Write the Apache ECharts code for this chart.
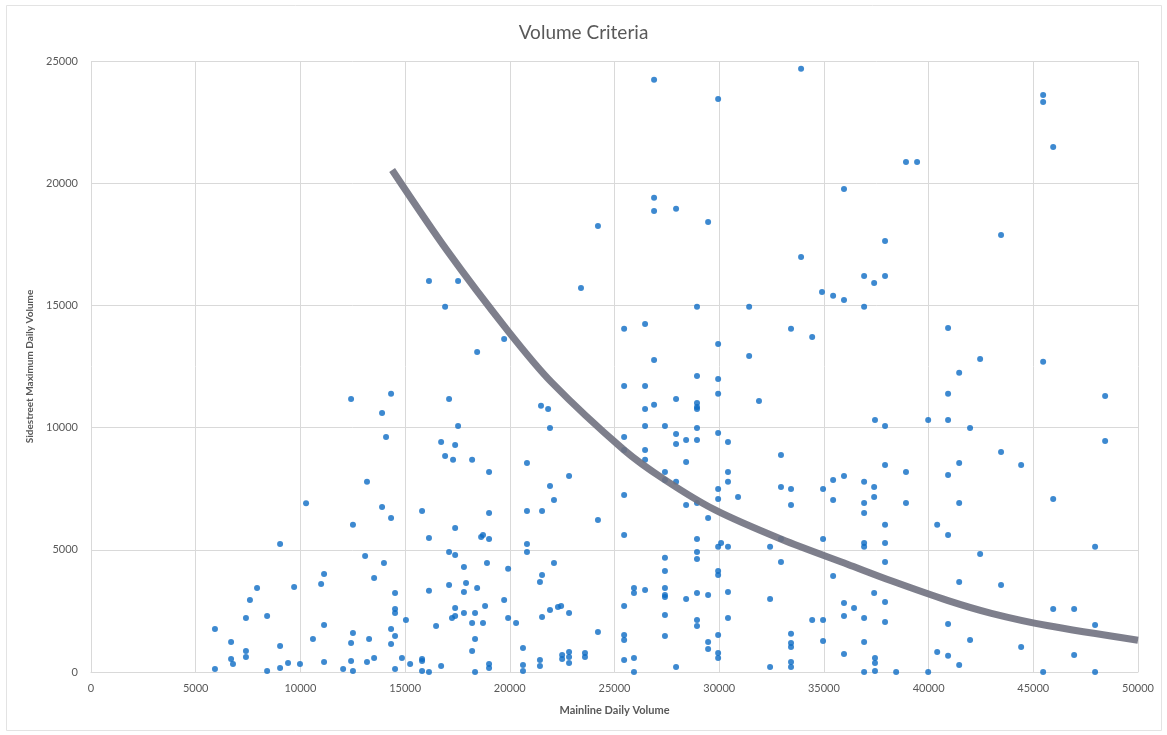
<!DOCTYPE html>
<html>
<head>
<meta charset="utf-8">
<title>Volume Criteria</title>
<script src="https://cdn.jsdelivr.net/npm/echarts@6/dist/echarts.min.js"></script>
<style>
  html, body { margin: 0; padding: 0; background: #fff; }
  #chart { width: 1167px; height: 735px; }
</style>
</head>
<body>
<div id="chart"></div>
<script>
  // sites: [mainline daily volume, sidestreet max daily volume]
  var sitesLow = [
    [10270,6900],[9030,5240],[11130,4010],[10990,3600],[7930,3440],[9700,3480],[7590,2950],[7400,2210],
    [8410,2290],[5920,1760],[11130,1920],[6690,1230],[10600,1350],[9030,1060],[7400,860],[7400,610],
    [6690,530],[6780,330],[5920,120],[8410,40],[9030,160],[9410,370],[9980,330],[11130,410],[12040,120]
  ]
  var sitesMid = [
    [12420,11170],[14330,11380],[13900,10600],[14090,9620],[17100,11170],[17530,10070],[16720,9410],[17390,9290],
    [16910,8840],[17290,8680],[18200,8680],[19010,8180],[13180,7780],[13900,6750],[14330,6300],[12510,6020],
    [15810,6590],[19010,6510],[17390,5890],[16140,5480],[18630,5520],[18720,5610],[19010,5440],[21490,10890],
    [21830,10760],[21920,9980],[20820,8550],[22830,8020],[21920,7610],[22110,7040],[20820,6590],[21540,6590],
    [24210,6220],[20820,5240],[20820,4910],[17100,4910],[17390,4790],[13090,4750],[13990,4460],[17810,4300],
    [18910,4460],[19920,4220],[22110,4460],[21540,3970],[21440,3680],[13520,3850],[14520,3230],[16140,3320],
    [17100,3560],[17910,3640],[17810,3270],[18440,3440],[19730,2950],[14520,2580],[14520,2410],[15040,2130],
    [16480,1880],[17390,2620],[17240,2210],[17390,2290],[17810,2410],[18340,2410],[18820,2700],[18200,2010],
    [18720,2010],[19920,2210],[20300,2010],[21920,2540],[22300,2660],[22450,2700],[22830,2410],[21540,2250],
    [24210,1640],[12510,1600],[12420,1190],[13280,1350],[14330,1760],[14520,1470],[14330,1150],[18340,1350],
    [18200,860],[20630,980],[12420,450],[13180,410],[13520,570],[14850,570],[15240,330],[15810,530],
    [15810,450],[16720,250],[14520,120],[15810,40],[16140,0],[12510,40],[18340,0],[19010,330],
    [19010,160],[20630,290],[20630,40],[21440,490],[21440,250],[22500,700],[22500,530],[22830,820],
    [22830,610],[22830,370],[23590,780],[23590,610],
    [24210,18250],[23400,15710],[16140,16000],[17530,16000],[16910,14940],[19730,13630],[18440,13090]
  ]
  var sitesHigh = [
    [26890,12770],[25460,11700],[26460,11700],[28940,12110],[29950,11990],[29950,11380],[27940,11170],[31900,11090],
    [26460,10760],[26890,10930],[28940,11010],[28940,10840],[28940,10760],[26460,10070],[27410,10070],[25460,9620],
    [27940,9740],[27940,9330],[28420,9490],[28940,9980],[28940,9490],[29950,9780],[30420,9410],[25460,9080],
    [26460,9080],[26460,8680],[28420,8590],[27410,8180],[27410,7860],[27940,7780],[30420,8180],[30420,7780],
    [29950,7490],[29950,7080],[30900,7160],[25460,7240],[28420,6830],[28940,6920],[29470,6300],[32950,8880],
    [32950,7570],[33430,7490],[33430,6830],[34960,7490],[35440,7860],[35960,8020],[35440,7040],[36920,7780],
    [36920,6920],[36920,6510],[37400,7570],[37400,7160],[37440,10310],[25460,5610],[28940,5440],[29950,5120],
    [30090,5280],[30420,5120],[32430,5120],[32950,5440],[34960,5440],[36920,5280],[36920,5120],[32950,4500],
    [27410,4670],[28940,4910],[28940,4620],[27410,4130],[29950,4130],[29950,3970],[25930,3440],[25930,3230],
    [26460,3360],[27410,3440],[27410,3150],[27410,3070],[28420,2990],[28940,3230],[29470,3150],[30420,3270],
    [32430,2990],[35440,3930],[25460,2700],[27410,2330],[28940,2130],[28940,1880],[30420,2210],[34440,2130],
    [34960,2130],[35960,2820],[36440,2620],[35960,2290],[36920,2210],[37400,3230],[25460,1510],[25460,1310],
    [27410,1470],[29470,1230],[29470,940],[29950,1510],[29950,780],[29950,570],[33430,1560],[33430,1190],
    [33430,1020],[34960,1270],[36920,1230],[25460,490],[25930,570],[25930,0],[27940,200],[32430,200],
    [33430,410],[33430,200],[35960,740],[36920,0],[37440,570],[37440,370],[37440,40],
    [26890,24230],[29950,23450],[33910,24680],[26890,19400],[26890,18860],[27940,18950],[29470,18410],[35960,19760],
    [33910,16980],[34910,15550],[35440,15390],[35960,15220],[36920,16200],[37400,15920],[28940,14940],[31430,14940],
    [36920,14940],[25460,14040],[26460,14240],[29950,13420],[31430,12930],[33430,14040],[34440,13710]
  ]
  var sitesFar = [
    [38920,20870],[39450,20870],[45470,23610],[45470,23320],[45950,21480],[43460,17880],[37920,17640],[37920,16200],
    [40930,14080],[42460,12810],[45470,12690],[41460,12240],[40930,11380],[48430,11290],[37920,10070],[39980,10310],
    [40930,10310],[41980,9980],[48430,9450],[43460,9000],[44420,8470],[37920,8470],[38920,8180],[41460,8550],
    [40930,8060],[38920,6920],[41460,6920],[45950,7080],[37920,6020],[37920,5280],[40410,6020],[40930,5610],
    [42460,4830],[47950,5120],[37920,4500],[41460,3680],[43460,3560],[37920,2860],[37920,2050],[40930,1960],
    [45950,2580],[46950,2580],[47950,1920],[41980,1310],[44420,1020],[40410,820],[40930,660],[41460,290],
    [46950,700],[38450,0],[39980,0],[45470,0],[47950,0]
  ]

  // criteria curve
  var curveX = [14380, 17000, 19920, 22000, 25456, 27410, 29800, 33000, 36150, 38250, 40930, 43000, 45660, 50000]
  var curveY = [20540, 17250, 13950, 11850, 9084, 7860, 6630, 5420, 4400, 3720, 2920, 2400, 1900, 1300]

  var xTicks = ['0','5000','10000','15000','20000','25000','30000','35000','40000','45000','50000']
  var yTicks = ['0','5000','10000','15000','20000','25000']

  var sites = sitesLow.concat(sitesMid, sitesHigh, sitesFar)
  var curve = curveX.map(function (x, i) { return [x, curveY[i]] })

  var font = 'Lato, "Open Sans", sans-serif'
  var chart = echarts.init(document.getElementById('chart'))
  chart.setOption({
    animation: false,
    graphic: [{
      type: 'rect',
      shape: { x: 6.5, y: 5.5, width: 1155, height: 725 },
      style: { fill: 'none', stroke: '#e3e3e3', lineWidth: 1 },
      silent: true
    }],
    title: {
      text: 'Volume Criteria',
      left: 'center',
      top: 18,
      textStyle: { color: '#595959', fontSize: 19, fontWeight: 'normal', fontFamily: font }
    },
    grid: { left: 91, right: 29, top: 61, bottom: 63 },
    xAxis: {
      type: 'value',
      min: 0,
      max: 50000,
      interval: 5000,
      name: 'Mainline Daily Volume',
      nameLocation: 'middle',
      nameGap: 33,
      nameTextStyle: { color: '#595959', fontSize: 11, fontWeight: 'bold', fontFamily: font },
      axisLine: { lineStyle: { color: '#d9d9d9' } },
      axisTick: { show: false },
      axisLabel: {
        color: '#595959', fontSize: 11, fontFamily: font, margin: 11,
        formatter: function (v) { return xTicks[Math.round(v / 5000)] }
      },
      splitLine: { lineStyle: { color: '#d9d9d9' } }
    },
    yAxis: {
      type: 'value',
      min: 0,
      max: 25000,
      interval: 5000,
      name: 'Sidestreet Maximum Daily Volume',
      nameLocation: 'middle',
      nameGap: 56,
      nameTextStyle: { color: '#595959', fontSize: 10, fontWeight: 'bold', fontFamily: font },
      axisLine: { show: false },
      axisTick: { show: false },
      axisLabel: {
        color: '#595959', fontSize: 11, fontFamily: font, margin: 13,
        formatter: function (v) { return yTicks[Math.round(v / 5000)] }
      },
      splitLine: { lineStyle: { color: '#d9d9d9' } }
    },
    series: [{
      name: 'Sites',
      type: 'scatter',
      data: sites,
      symbolSize: 6,
      itemStyle: { color: '#0d6bc4' },
      z: 2
    }, {
      name: 'Criteria',
      type: 'line',
      data: curve,
      smooth: 0.3,
      showSymbol: false,
      lineStyle: { color: '#70717f', width: 7, opacity: 0.9 },
      z: 3
    }]
  })
</script>
</body>
</html>
